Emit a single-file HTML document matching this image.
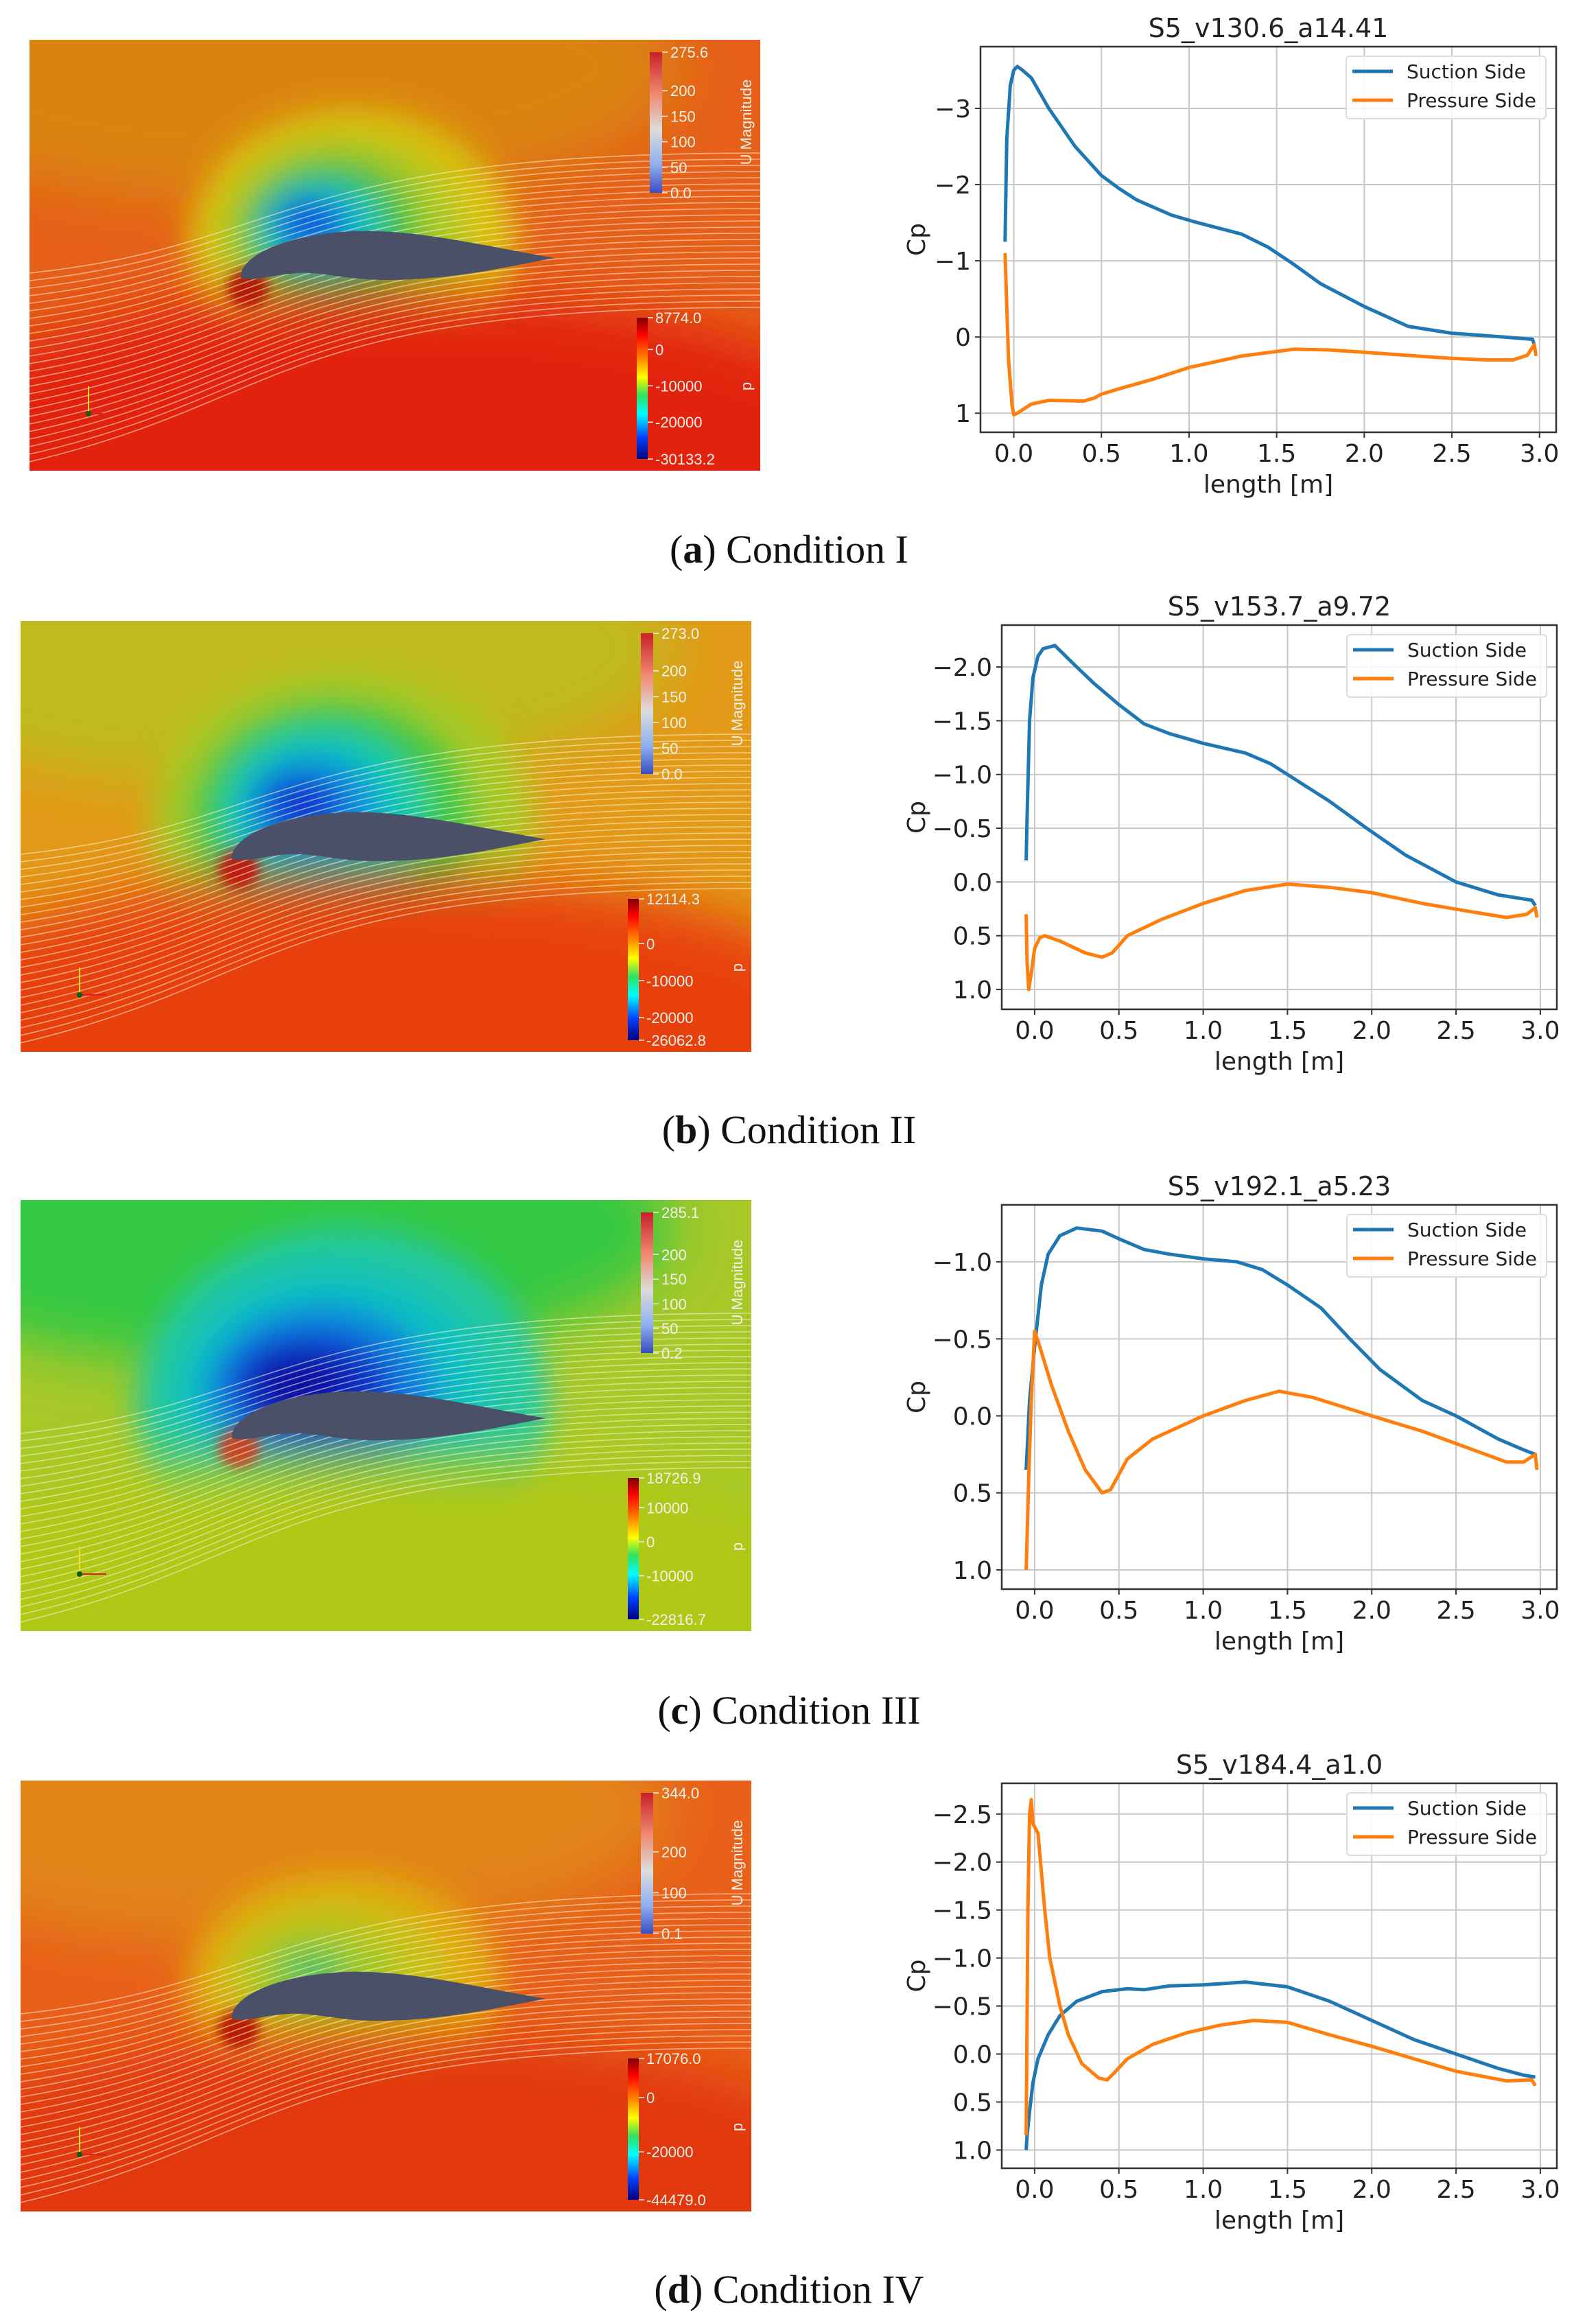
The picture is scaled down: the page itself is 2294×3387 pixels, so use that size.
<!DOCTYPE html>
<html><head><meta charset="utf-8">
<style>
html,body{margin:0;padding:0;background:#fff;}
svg{display:block;}
.tk{font-family:"DejaVu Sans","Liberation Sans",sans-serif;fill:#222;}
.cap{font-family:"Liberation Serif",serif;font-size:58px;fill:#111;}
.cb{font-family:"Liberation Sans",sans-serif;font-size:22px;fill:#f4f0e8;}
</style></head>
<body>
<svg id="page" xmlns="http://www.w3.org/2000/svg" width="2294" height="3387" viewBox="0 0 2294 3387">
<rect width="2294" height="3387" fill="#fff"/>
<defs>
<linearGradient id="ucb" x1="0" y1="0" x2="0" y2="1">
<stop offset="0" stop-color="#c8202a"/><stop offset="0.3" stop-color="#f08a70"/><stop offset="0.55" stop-color="#dcdcdc"/><stop offset="0.8" stop-color="#8fb0f0"/><stop offset="1" stop-color="#3a4cc0"/></linearGradient>
<linearGradient id="pcb" x1="0" y1="0" x2="0" y2="1">
<stop offset="0" stop-color="#800000"/><stop offset="0.12" stop-color="#ff0000"/><stop offset="0.3" stop-color="#ff9000"/><stop offset="0.42" stop-color="#ffff00"/><stop offset="0.55" stop-color="#30e060"/><stop offset="0.68" stop-color="#00ffff"/><stop offset="0.85" stop-color="#0040ff"/><stop offset="1" stop-color="#000080"/></linearGradient>
<filter id="blur" x="-50%" y="-50%" width="200%" height="200%"><feGaussianBlur stdDeviation="22"/></filter>
<filter id="blurL" x="-50%" y="-50%" width="200%" height="200%"><feGaussianBlur stdDeviation="40"/></filter>
<filter id="blur2" x="-50%" y="-50%" width="200%" height="200%"><feGaussianBlur stdDeviation="8"/></filter>
</defs>
<g id="cfd"></g>
<g id="charts"></g>
<text class="cap" x="1150" y="820" text-anchor="middle">(<tspan font-weight="bold">a</tspan>) Condition I</text>
<text class="cap" x="1150" y="1666" text-anchor="middle">(<tspan font-weight="bold">b</tspan>) Condition II</text>
<text class="cap" x="1150" y="2512" text-anchor="middle">(<tspan font-weight="bold">c</tspan>) Condition III</text>
<text class="cap" x="1150" y="3356" text-anchor="middle">(<tspan font-weight="bold">d</tspan>) Condition IV</text>
</svg>
<script>
// ---------- chart data ----------
const xTicks = [0, 0.5, 1.0, 1.5, 2.0, 2.5, 3.0];
const xTickLabels = ["0.0","0.5","1.0","1.5","2.0","2.5","3.0"];
const titles = ["S5_v130.6_a14.41","S5_v153.7_a9.72","S5_v192.1_a5.23","S5_v184.4_a1.0"];
const yTicksA = [-3,-2,-1,0,1];
const yTickLabelsA = ["\u22123","\u22122","\u22121","0","1"];
const yTicksB = [-2.0,-1.5,-1.0,-0.5,0.0,0.5,1.0];
const yTickLabelsB = ["\u22122.0","\u22121.5","\u22121.0","\u22120.5","0.0","0.5","1.0"];
const yTicksC = [-1.0,-0.5,0.0,0.5,1.0];
const yTickLabelsC = ["\u22121.0","\u22120.5","0.0","0.5","1.0"];
const yTicksD = [-2.5,-2.0,-1.5,-1.0,-0.5,0.0,0.5,1.0];
const yTickLabelsD = ["\u22122.5","\u22122.0","\u22121.5","\u22121.0","\u22120.5","0.0","0.5","1.0"];

const xA_s = [-0.05,-0.04,-0.02,0.0,0.02,0.05,0.1,0.2,0.35,0.5,0.6,0.7,0.9,1.05,1.3,1.45,1.6,1.75,2.0,2.25,2.5,2.8,2.96,2.97];
const cpA_s = [-1.25,-2.6,-3.3,-3.5,-3.55,-3.5,-3.4,-3.0,-2.5,-2.12,-1.95,-1.8,-1.6,-1.5,-1.35,-1.18,-0.95,-0.7,-0.4,-0.14,-0.05,0.0,0.03,0.1];
const xA_p = [-0.05,-0.04,-0.03,-0.01,0.0,0.02,0.1,0.2,0.4,0.46,0.5,0.6,0.8,1.0,1.3,1.6,1.8,2.0,2.3,2.5,2.7,2.85,2.93,2.97,2.98];
const cpA_p = [-1.1,-0.4,0.3,0.9,1.02,1.0,0.88,0.83,0.84,0.8,0.75,0.68,0.55,0.4,0.25,0.16,0.17,0.2,0.25,0.28,0.3,0.3,0.24,0.1,0.25];

const xB_s = [-0.05,-0.045,-0.03,-0.01,0.02,0.05,0.12,0.25,0.35,0.5,0.65,0.8,1.0,1.25,1.4,1.5,1.75,1.97,2.2,2.5,2.75,2.95,2.97];
const cpB_s = [-0.2,-0.6,-1.5,-1.9,-2.1,-2.17,-2.2,-2.0,-1.85,-1.65,-1.47,-1.38,-1.29,-1.2,-1.1,-1.0,-0.75,-0.5,-0.25,0.0,0.12,0.17,0.22];
const xB_p = [-0.05,-0.045,-0.035,-0.02,0.0,0.03,0.06,0.15,0.3,0.4,0.46,0.55,0.75,1.0,1.25,1.5,1.75,2.0,2.3,2.6,2.8,2.92,2.97,2.98];
const cpB_p = [0.3,0.75,1.0,0.85,0.62,0.52,0.5,0.55,0.66,0.7,0.66,0.5,0.35,0.2,0.08,0.02,0.05,0.1,0.2,0.28,0.33,0.3,0.24,0.33];

const xC_s = [-0.05,-0.03,0.0,0.04,0.08,0.15,0.25,0.4,0.5,0.65,0.8,1.0,1.2,1.35,1.5,1.7,1.87,2.05,2.3,2.5,2.75,2.9,2.97];
const cpC_s = [0.35,-0.1,-0.45,-0.85,-1.05,-1.17,-1.22,-1.2,-1.15,-1.08,-1.05,-1.02,-1.0,-0.95,-0.85,-0.7,-0.5,-0.3,-0.1,0.0,0.15,0.22,0.25];
const xC_p = [-0.05,-0.035,-0.02,0.0,0.03,0.1,0.2,0.3,0.4,0.45,0.5,0.55,0.7,1.0,1.25,1.45,1.65,2.0,2.3,2.55,2.8,2.9,2.97,2.98];
const cpC_p = [1.0,0.4,-0.1,-0.55,-0.45,-0.2,0.1,0.35,0.5,0.48,0.38,0.28,0.15,0.0,-0.1,-0.16,-0.12,0.0,0.1,0.2,0.3,0.3,0.25,0.35];

const xD_s = [-0.05,-0.045,-0.03,-0.01,0.02,0.08,0.15,0.25,0.4,0.55,0.65,0.8,1.0,1.25,1.5,1.75,2.0,2.25,2.5,2.75,2.9,2.97];
const cpD_s = [1.0,0.85,0.6,0.3,0.05,-0.2,-0.4,-0.55,-0.65,-0.68,-0.67,-0.71,-0.72,-0.75,-0.7,-0.55,-0.35,-0.15,0.0,0.15,0.22,0.24];
const xD_p = [-0.05,-0.04,-0.03,-0.02,-0.01,0.02,0.04,0.06,0.09,0.15,0.2,0.28,0.38,0.43,0.47,0.55,0.7,0.9,1.1,1.3,1.5,1.75,2.0,2.25,2.5,2.8,2.95,2.97];
const cpD_p = [0.85,-1.5,-2.5,-2.65,-2.4,-2.3,-1.9,-1.5,-1.0,-0.5,-0.2,0.1,0.25,0.27,0.2,0.05,-0.1,-0.22,-0.3,-0.35,-0.33,-0.2,-0.08,0.05,0.18,0.28,0.27,0.33];

const NS = "http://www.w3.org/2000/svg";
function mk(parent, tag, attrs, text) {
  const e = document.createElementNS(NS, tag);
  for (const k in attrs) e.setAttribute(k, attrs[k]);
  if (text !== undefined) e.textContent = text;
  parent.appendChild(e);
  return e;
}

const layouts = [
  {L:1429,R:2268,T:68,B:630,xmin:-0.19,xmax:3.095,ymin:-3.81,ymax:1.25,yt:yTicksA,yl:yTickLabelsA,s:[xA_s,cpA_s],p:[xA_p,cpA_p],id:"a"},
  {L:1460,R:2269,T:911,B:1471,xmin:-0.195,xmax:3.098,ymin:-2.39,ymax:1.185,yt:yTicksB,yl:yTickLabelsB,s:[xB_s,cpB_s],p:[xB_p,cpB_p],id:"b"},
  {L:1460,R:2269,T:1756,B:2316,xmin:-0.195,xmax:3.098,ymin:-1.37,ymax:1.125,yt:yTicksC,yl:yTickLabelsC,s:[xC_s,cpC_s],p:[xC_p,cpC_p],id:"c"},
  {L:1460,R:2269,T:2599,B:3160,xmin:-0.195,xmax:3.098,ymin:-2.82,ymax:1.19,yt:yTicksD,yl:yTickLabelsD,s:[xD_s,cpD_s],p:[xD_p,cpD_p],id:"d"}
];

const chartsG = document.getElementById("charts");
layouts.forEach((c, ci) => {
  const g = mk(chartsG, "g", {});
  
  
  const xs = v => c.L + (v - c.xmin) / (c.xmax - c.xmin) * (c.R - c.L);
  const ys = v => c.T + (v - c.ymin) / (c.ymax - c.ymin) * (c.B - c.T);
  xTicks.forEach((t, i) => {
    const x = xs(t);
    const gl = mk(g, "line", {x1:x, x2:x, y1:c.T, y2:c.B, stroke:"#c8c8c8", "stroke-width":2});
    
    
    mk(g, "line", {x1:x, x2:x, y1:c.B, y2:c.B+8, stroke:"#333", "stroke-width":2});
    const tl = mk(g, "text", {x:x, y:c.B+43, "text-anchor":"middle", "font-size":36, class:"tk"}, xTickLabels[i]);
    
    
  });
  c.yt.forEach((t, i) => {
    const y = ys(t);
    const gl = mk(g, "line", {x1:c.L, x2:c.R, y1:y, y2:y, stroke:"#c8c8c8", "stroke-width":2});
    
    
    mk(g, "line", {x1:c.L-8, x2:c.L, y1:y, y2:y, stroke:"#333", "stroke-width":2});
    const tl = mk(g, "text", {x:c.L-14, y:y+13, "text-anchor":"end", "font-size":36, class:"tk"}, c.yl[i]);
    
    
  });
  const line = (arr, col, name) => {
    let d = "";
    arr[0].forEach((x, i) => { d += (i ? "L" : "M") + xs(x).toFixed(1) + "," + ys(arr[1][i]).toFixed(1); });
    const p = mk(g, "path", {d:d, fill:"none", stroke:col, "stroke-width":5, "stroke-linejoin":"round"});
    
    
  };
  line(c.s, "#1f77b4", "suction-side-line");
  line(c.p, "#ff7f0e", "pressure-side-line");
  const fr = mk(g, "rect", {x:c.L, y:c.T, width:c.R-c.L, height:c.B-c.T, fill:"none", stroke:"#333", "stroke-width":2.5});
  
  
  const cx = (c.L + c.R) / 2;
  const ti = mk(g, "text", {x:cx, y:c.T-14, "text-anchor":"middle", "font-size":38, class:"tk"}, titles[ci]);
  
  
  const xl = mk(g, "text", {x:cx, y:c.B+88, "text-anchor":"middle", "font-size":36, class:"tk"}, "length [m]");
  
  
  const ym = (c.T + c.B) / 2;
  const yl = mk(g, "text", {x:1348, y:ym, "text-anchor":"middle", "font-size":36, class:"tk", transform:"rotate(-90 1348 " + ym + ")"}, "Cp");
  
  
  const lg = mk(g, "g", {});
  
  
  const lx = c.R - 306, ly = c.T + 14;
  mk(lg, "rect", {x:lx, y:ly, width:291, height:91, rx:5, fill:"#fff", "fill-opacity":0.85, stroke:"#dcdcdc", "stroke-width":2});
  [["#1f77b4","Suction Side",36],["#ff7f0e","Pressure Side",78]].forEach(e => {
    const en = mk(lg, "g", {});
    
    
    mk(en, "line", {x1:lx+9, x2:lx+68, y1:c.T+e[2], y2:c.T+e[2], stroke:e[0], "stroke-width":5});
    mk(en, "text", {x:lx+88, y:c.T+e[2]+10, "font-size":28, class:"tk"}, e[1]);
  });
});

// ---------- CFD images (decorative) ----------
const panels = [
  {x:43,y:58,id:"a",base:"#e6601a",top:"#d88a10",low:"#e2200c",spot:"#b00000",layers:[["#d8c010",240,200],["#a8c820",180,150],["#40c040",130,110],["#10c0c0",90,70],["#1050e0",55,35]],
   U:["275.6","200","150","100","50","0.0"],Uv:[1,0.726,0.544,0.363,0.181,0],P:["8774.0","0","-10000","-20000","-30133.2"],Pv:[1,0.775,0.518,0.261,0]},
  {x:30,y:905,id:"b",base:"#e29a18",top:"#b8c020",low:"#e84010",spot:"#d00000",layers:[["#a8c820",280,230],["#40c840",210,180],["#10c8b0",150,130],["#1090e0",100,80],["#1030d0",60,40]],
   U:["273.0","200","150","100","50","0.0"],Uv:[1,0.733,0.549,0.366,0.183,0],P:["12114.3","0","-10000","-20000","-26062.8"],Pv:[1,0.683,0.421,0.159,0]},
  {x:30,y:1749,id:"c",base:"#a8c828",top:"#20c848",low:"#b0c818",spot:"#e03010",layers:[["#20c8a0",300,260],["#10c0c0",230,190],["#1080e0",170,130],["#1030c8",120,80],["#0a10a0",70,40]],
   U:["285.1","200","150","100","50","0.2"],Uv:[1,0.701,0.526,0.35,0.175,0],P:["18726.9","10000","0","-10000","-22816.7"],Pv:[1,0.79,0.549,0.308,0]},
  {x:30,y:2595,id:"d",base:"#e8601a",top:"#e08a14",low:"#e23810",spot:"#b00000",layers:[["#e0a810",230,170],["#c8c018",170,120],["#a0c820",110,70],["#30c060",50,25]],
   U:["344.0","200","100","0.1"],Uv:[1,0.581,0.29,0],P:["17076.0","0","-20000","-44479.0"],Pv:[1,0.723,0.339,0]}
];
const cfdG = document.getElementById("cfd");
const W = 1065, H = 628;
panels.forEach(p => {
  const g = mk(cfdG, "g", {transform:"translate(" + p.x + "," + p.y + ")"});
  
  
  const cid = "clip" + p.id;
  const cp = mk(g, "clipPath", {id:cid});
  mk(cp, "rect", {x:0, y:0, width:W, height:H});
  const inner = mk(g, "g", {"clip-path":"url(#" + cid + ")"});
  mk(inner, "rect", {x:0, y:0, width:W, height:H, fill:p.base});
  const fl = mk(inner, "g", {filter:"url(#blurL)"});
  mk(fl, "ellipse", {cx:350, cy:40, rx:600, ry:200, fill:p.top, opacity:0.85});
  const fx = mk(inner, "g", {filter:"url(#blur)"});
  p.layers.forEach((l, i) => {
    mk(fx, "ellipse", {cx:470 - i*15, cy:300 - i*8, rx:l[1], ry:l[2], fill:l[0]});
  });
  const fl2 = mk(inner, "g", {filter:"url(#blurL)"});
  mk(fl2, "ellipse", {cx:520, cy:590, rx:720, ry:220, fill:p.low});
  const fx2 = mk(inner, "g", {filter:"url(#blur2)"});
  mk(fx2, "ellipse", {cx:318, cy:362, rx:30, ry:28, fill:p.spot, opacity:0.8});
  let sd = "";
  for (let k = 0; k < 26; k++) {
    const L = 340 + k * 11, R = 165 + k * 9;
    sd += "M0," + L + " C380," + (L - 40 - k*2) + " 360," + R + " " + W + "," + R + " ";
  }
  const st = mk(inner, "path", {d:sd, fill:"none", stroke:"#fff4d8", "stroke-width":1.6, opacity:0.55});
  
  
  const af = mk(inner, "path", {d:"M308,347 C305,320 360,285 470,279 C560,275 660,300 765,318 C700,330 620,350 520,350 C460,350 430,338 390,340 C350,343 330,352 308,347 Z", fill:"#4a5068"});
  
  
  mk(inner, "line", {x1:86, y1:545, x2:86, y2:505, stroke:"#e8e020", "stroke-width":2});
  mk(inner, "line", {x1:86, y1:545, x2:125, y2:545, stroke:"#e02020", "stroke-width":2});
  mk(inner, "circle", {cx:86, cy:545, r:4, fill:"#106010"});
  const ub = mk(inner, "rect", {x:904, y:18, width:18, height:205, fill:"url(#ucb)"});
  
  
  p.U.forEach((t, i) => {
    const y = 223 - p.Uv[i] * 205;
    mk(inner, "line", {x1:922, x2:930, y1:y, y2:y, stroke:"#eee", "stroke-width":1.5});
    mk(inner, "text", {x:934, y:y+8, class:"cb"}, t);
  });
  mk(inner, "text", {x:1052, y:120, class:"cb", "text-anchor":"middle", transform:"rotate(-90 1052 120)"}, "U Magnitude");
  const pb = mk(inner, "rect", {x:885, y:405, width:16, height:206, fill:"url(#pcb)"});
  
  
  p.P.forEach((t, i) => {
    const y = 611 - p.Pv[i] * 206;
    mk(inner, "line", {x1:901, x2:909, y1:y, y2:y, stroke:"#eee", "stroke-width":1.5});
    mk(inner, "text", {x:912, y:y+8, class:"cb"}, t);
  });
  mk(inner, "text", {x:1052, y:505, class:"cb", "text-anchor":"middle", transform:"rotate(-90 1052 505)"}, "p");
});
</script>
</body></html>
